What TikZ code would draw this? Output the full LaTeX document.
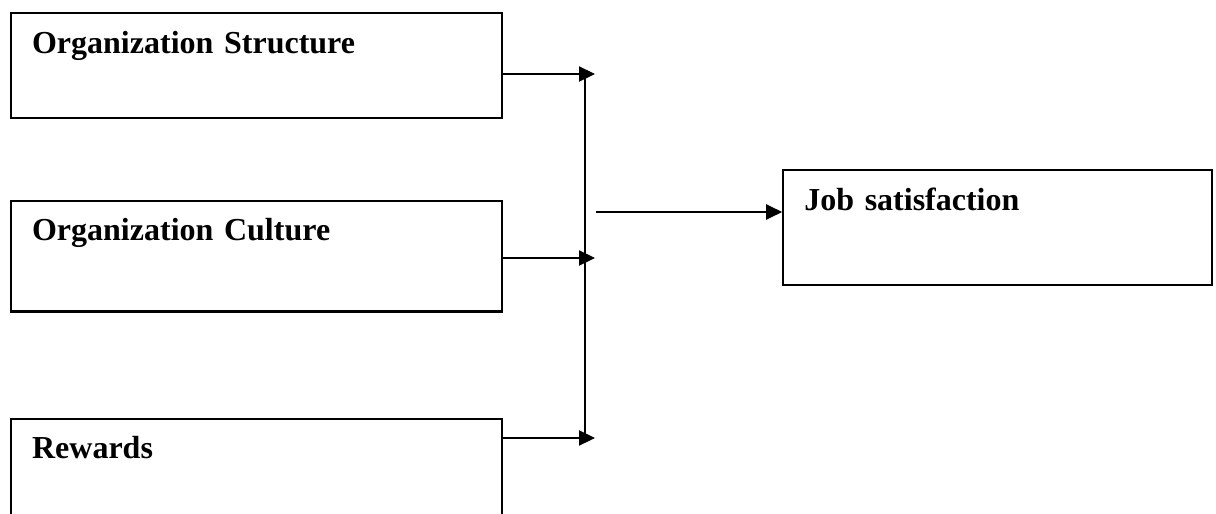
\documentclass[tikz,border=0pt]{standalone}
\usepackage{fontspec}
\setmainfont{Liberation Serif}
\usepackage{tikz}
\usetikzlibrary{arrows.meta, positioning}

\begin{document}
\begin{tikzpicture}[line width=1.1pt, >={Triangle[length=8pt,width=7.5pt]},
    factor/.style={draw, rectangle, anchor=north west, inner xsep=10.5pt, inner ysep=0pt,
        text width=224.5pt, align=left, text height=20pt,
        font=\fontsize{16}{19}\selectfont\bfseries}]
        \useasboundingbox (0,0) rectangle (608pt,-257pt);

        \node[factor, text depth=32.5pt]  (struct)  at (5pt,-6pt)             {Organization Structure};
        \node[factor, text depth=35.3pt]  (culture) [below=40.3pt of struct.south west, anchor=north west] {Organization Culture};
        \node[factor, text depth=32.5pt]  (rewards) [below=52.5pt of culture.south west, anchor=north west] {Rewards};
        \node[factor, text depth=37.2pt, text width=193.5pt] (job) [below right=25pt and 139.5pt of struct.south east] {Job satisfaction};

        % arrow ends on the bus
        \coordinate (structIn)  at (297.5pt,-37pt);
        \coordinate (cultureIn) at (297.5pt,-129pt);
        \coordinate (rewardsIn) at (297.5pt,-219pt);
        \coordinate (busTop) at (292.5pt,-37pt);
        \coordinate (busBot) at (292.5pt,-219pt);
        \coordinate (merge)  at (298pt,-106pt);

        \draw (busTop) -- (busBot);
        \path[->]   (structIn -| struct.east) edge (structIn)
        (cultureIn -| culture.east) edge (cultureIn)
        (rewardsIn -| rewards.east) edge (rewardsIn)
        (merge) edge (merge -| job.west)
        ;
    \end{tikzpicture}
\end{document}
